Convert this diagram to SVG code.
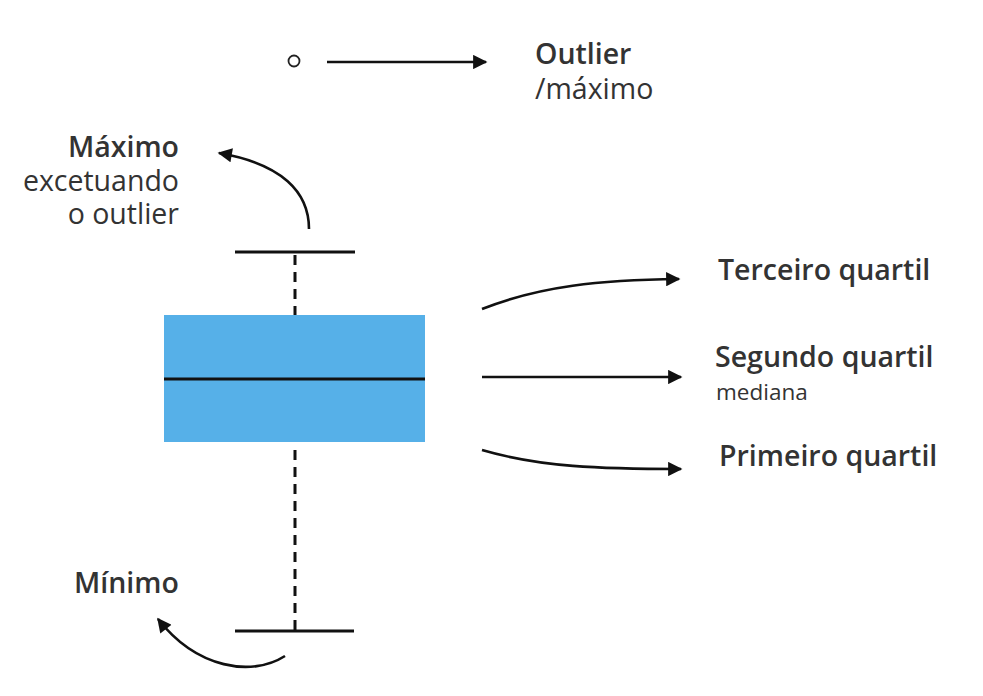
<svg xmlns="http://www.w3.org/2000/svg" width="983" height="696" viewBox="0 0 983 696">
<defs>
<style>
.t{font-family:"Open Sans","Noto Sans","Liberation Sans",sans-serif;fill:#333333;}
.b{font-weight:600;font-size:28.5px;}
.r{font-weight:400;font-size:28.5px;}
.s{font-weight:400;font-size:22.5px;}
.ln{stroke:#111111;stroke-width:3;fill:none;}
.dash{stroke:#111111;stroke-width:3;stroke-dasharray:10 7;fill:none;}
.arr{stroke:#111111;stroke-width:2.6;fill:none;marker-end:url(#ah);}
</style>
<marker id="ah" viewBox="0 0 10 10" refX="9" refY="5" markerWidth="6" markerHeight="5.5" markerUnits="strokeWidth" orient="auto">
<path d="M0,0 L10,5 L0,10 z" fill="#111111"/>
</marker>
</defs>
<rect width="983" height="696" fill="#ffffff"/>
<g id="boxplot">
<line class="ln" x1="235" y1="252" x2="355" y2="252"/>
<line class="dash" x1="295" y1="255" x2="295" y2="315"/>
<rect x="164" y="315" width="261" height="127" fill="#56b0e8"/>
<line class="ln" x1="164" y1="379" x2="425" y2="379"/>
<line class="dash" x1="295" y1="450" x2="295" y2="631"/>
<line class="ln" x1="235" y1="631" x2="354" y2="631"/>
<circle cx="294" cy="61" r="5.5" fill="none" stroke="#222222" stroke-width="1.8"/>
</g>
<g id="connectors">
<line class="arr" x1="327" y1="62" x2="486" y2="62"/>
<path class="arr" d="M309,229 C309,192 282,164 219,153"/>
<path class="arr" d="M285,656 C252,677 197,669 158,619"/>
<path class="arr" d="M482,309 C540,286 600,280 679,279"/>
<line class="arr" x1="482" y1="377" x2="681" y2="377"/>
<path class="arr" d="M482,450 C540,467 600,469 681,469"/>
</g>
<g id="outlier-label"><text class="t b" x="535" y="64">Outlier</text><text class="t r" x="535" y="99">/máximo</text></g>
<g id="maximo-label"><text class="t b" x="179" y="157" text-anchor="end">Máximo</text><text class="t r" x="179" y="191" text-anchor="end">excetuando</text><text class="t r" x="179" y="224" text-anchor="end">o outlier</text></g>
<g id="minimo-label"><text class="t b" x="74" y="593">Mínimo</text></g>
<g id="q3-label"><text class="t b" x="718" y="280">Terceiro quartil</text></g>
<g id="q2-label"><text class="t b" x="715" y="367">Segundo quartil</text><text class="t s" x="716" y="400">mediana</text></g>
<g id="q1-label"><text class="t b" x="719" y="466">Primeiro quartil</text></g>
</svg>
